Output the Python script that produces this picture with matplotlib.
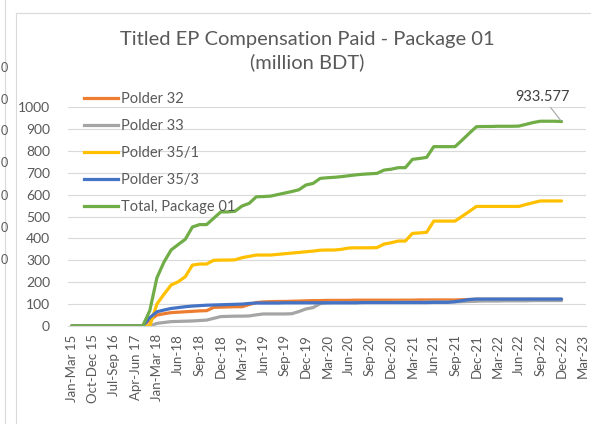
import matplotlib
matplotlib.use('Agg')
import matplotlib.pyplot as plt
from matplotlib.lines import Line2D

plt.rcParams['font.family'] = ['Lato', 'DejaVu Sans']

# tick labels shown on the category axis (every 3rd category)
tick_labels = ['Jan-Mar 15', 'Oct-Dec 15', 'Jul-Sep 16', 'Apr-Jun 17', 'Jan-Mar 18',
               'Jun-18', 'Sep-18', 'Dec-18', 'Mar-19', 'Jun-19', 'Sep-19', 'Dec-19',
               'Mar-20', 'Jun-20', 'Sep-20', 'Dec-20', 'Mar-21', 'Jun-21', 'Sep-21',
               'Dec-21', 'Mar-22', 'Jun-22', 'Sep-22', 'Dec-22', 'Mar-23']
n_categories = 73

# values in million BDT, one per category (Jan-Mar 15 .. Dec-22)
polder_32 = [0, 0, 0, 0, 0, 0, 0, 0, 0, 0, 0, 26, 50, 56, 61, 63, 65, 67, 69, 70,
             85, 86, 87, 88, 88, 98, 107, 110, 111, 112, 112, 113, 114, 115, 116, 116, 117, 117, 117, 117,
             118, 118, 118, 118, 118, 118, 118, 118, 118, 119, 119, 119, 119, 119, 119, 120, 121, 122, 122, 122,
             122, 122, 122, 122, 122, 122, 122, 122, 122, 122]
polder_33 = [0, 0, 0, 0, 0, 0, 0, 0, 0, 0, 0, 0, 12, 16, 20, 21, 22, 23, 25, 27,
             35, 43, 44, 45, 45, 46, 51, 55, 55, 55, 55, 56, 66, 78, 84, 102, 106, 107, 107, 107,
             107, 108, 108, 108, 108, 108, 109, 109, 109, 109, 110, 110, 110, 110, 110, 111, 112, 113, 114, 114,
             114, 115, 115, 115, 115, 116, 116, 116, 116, 116]
polder_35_1 = [0, 0, 0, 0, 0, 0, 0, 0, 0, 0, 0, 0, 100, 145, 187, 202, 225, 278, 283, 283,
               300, 301, 301, 302, 312, 318, 324, 324, 324, 327, 330, 333, 336, 339, 342, 346, 347, 347, 350, 356,
               357, 357, 357, 358, 374, 380, 388, 388, 423, 425, 428, 479, 479, 479, 479, 501, 523, 546, 546, 546,
               546, 546, 546, 546, 555, 563, 571, 571, 571, 571]
polder_35_3 = [0, 0, 0, 0, 0, 0, 0, 0, 0, 0, 0, 38, 65, 73, 80, 84, 88, 91, 93, 95,
               96, 97, 98, 99, 100, 103, 105, 105, 105, 105, 106, 106, 106, 106, 106, 106, 106, 106, 106, 106,
               106, 107, 107, 107, 107, 107, 107, 107, 107, 107, 107, 108, 108, 108, 111, 116, 121, 123, 123, 123,
               123, 123, 123, 123, 123, 123, 123, 123, 123, 123]
total_pkg = [0, 0, 0, 0, 0, 0, 0, 0, 0, 0, 0, 70, 220, 292, 347, 372, 396, 452, 463, 463,
             492, 521, 521, 524, 548, 560, 590, 591, 593, 600, 607, 614, 622, 644, 651, 674, 677, 679, 682, 686,
             690, 693, 695, 697, 712, 716, 723, 723, 761, 765, 770, 819, 819, 819, 819, 849, 880, 910, 911, 911,
             912, 912, 912, 913, 921, 929, 935, 935, 935, 933.577]

series = [('Polder 32', polder_32, '#ED7D31'),
          ('Polder 33', polder_33, '#A5A5A5'),
          ('Polder 35/1', polder_35_1, '#FFC000'),
          ('Polder 35/3', polder_35_3, '#4472C4'),
          ('Total, Package 01', total_pkg, '#70AD47')]

W, H = 597, 424
fig = plt.figure(figsize=(W / 100, H / 100), dpi=100)
ax = fig.add_axes([68.15 / W, 1 - 326 / H, (586.4 - 68.15) / W, (326 - 107) / H])

for name, vals, col in series:
    ax.plot(range(len(vals)), vals, color=col, lw=2.3, label=name,
            solid_capstyle='round', solid_joinstyle='round')

ax.set_xlim(-0.5, n_categories - 0.5)
ax.set_ylim(0, 1000)
ax.set_yticks(range(0, 1001, 100))
ax.set_xticks(range(0, n_categories, 3))
ax.set_xticklabels(tick_labels, rotation=90, fontsize=9.5, color='#595959')
ax.tick_params(axis='both', length=0, colors='#595959')
ax.tick_params(axis='y', labelsize=10, pad=13)
ax.tick_params(axis='x', pad=6)
ax.yaxis.grid(True, color='#d9d9d9', lw=0.8)
ax.set_axisbelow(True)
for s in ['top', 'right', 'left']:
    ax.spines[s].set_visible(False)
ax.spines['bottom'].set_color('#d9d9d9')

# data label on the last total point
ax.annotate('933.577', xy=(69, total_pkg[-1]), xytext=(-14, 18), textcoords='offset points',
            ha='center', va='center', fontsize=10.5, color='#404040',
            arrowprops=dict(arrowstyle='-', color='#a6a6a6', lw=0.8, shrinkA=1, shrinkB=1))

fig.text(307 / W, 1 - 51 / H, 'Titled EP Compensation Paid - Package 01\n(million BDT)',
         ha='center', va='center', fontsize=14.5, color='#595959', linespacing=1.4)

handles = [Line2D([], [], color=c, lw=2.3) for _, _, c in series]
fig.legend(handles, [n for n, _, _ in series], loc='upper left',
           bbox_to_anchor=(84 / W, 1 - 92 / H), frameon=False, fontsize=10.5,
           handlelength=2.3, handletextpad=0.25, labelspacing=0.9, borderpad=0,
           borderaxespad=0, labelcolor='#595959')

# chart border and neighbouring chart remnants
fig.add_artist(Line2D([16 / W, 16 / W], [0, 1 - 13 / H], color='#d9d9d9', lw=0.8))
fig.add_artist(Line2D([16 / W, 590 / W], [1 - 13 / H, 1 - 13 / H], color='#d9d9d9', lw=0.8))
fig.add_artist(Line2D([5 / W, 5 / W], [0, 1], color='#d9d9d9', lw=0.8))
for yy in [68, 100, 131, 163, 196, 228, 260]:
    fig.text(7.5 / W, 1 - yy / H, '0', ha='right', va='center', fontsize=9, color='#595959')

fig.savefig('out.png', dpi=100)
